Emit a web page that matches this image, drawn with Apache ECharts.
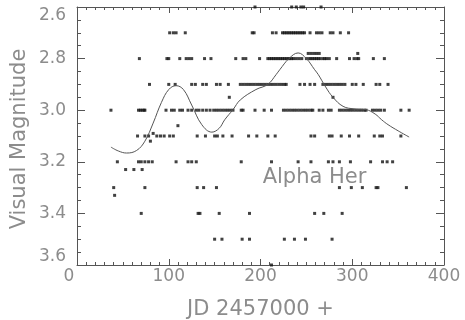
<!DOCTYPE html>
<html>
<head>
<meta charset="utf-8">
<script src="https://cdn.jsdelivr.net/npm/echarts@6/dist/echarts.min.js"></script>
<style>
html,body{margin:0;padding:0;background:#fff;}
#c{width:465px;height:320px;}
</style>
</head>
<body>
<div id="c"></div>
<script>
// Observations grouped by visual magnitude (JD - 2457000)
const jd_260 = [194, 234, 239, 244, 247, 266];
const jd_270 = [101, 105, 108, 118, 191, 193, 213, 217, 224, 226, 228, 230, 232, 234, 236, 238, 240, 242, 244, 246, 248, 254, 261, 264, 267, 276, 279, 287, 296];
const jd_278 = [252, 255, 258, 261, 264, 306];
const jd_280 = [68, 98, 100, 112, 119, 122, 125, 139, 146, 173, 181, 184, 199, 208, 210, 212, 214, 216, 218, 220, 222, 224, 226, 228, 230, 232, 234, 236, 239, 242, 245, 250, 253, 255, 257, 259, 261, 263, 265, 268, 270, 272, 275, 283, 297, 302, 305, 307, 323, 335];
const jd_290 = [79, 100, 107, 125, 129, 137, 141, 152, 156, 165, 178, 181, 184, 187, 190, 193, 196, 199, 202, 205, 208, 211, 214, 217, 220, 223, 226, 228, 243, 248, 254, 259, 268, 271, 274, 277, 280, 283, 286, 289, 292, 300, 304, 312, 326, 330, 339];
const jd_295 = [166, 279];
const jd_300 = [37, 67, 69, 71, 73, 74, 97, 103, 106, 112, 115, 121, 125, 130, 133, 137, 141, 145, 149, 152, 155, 158, 161, 164, 167, 170, 179, 181, 194, 204, 212, 225, 228, 231, 234, 237, 240, 243, 246, 249, 252, 255, 257, 264, 268, 274, 277, 286, 289, 292, 295, 298, 301, 304, 307, 310, 313, 315, 322, 325, 328, 331, 335, 353, 362];
const jd_306 = [110];
const jd_309 = [83];
const jd_310 = [66, 74, 78, 87, 91, 95, 101, 105, 131, 140, 150, 153, 159, 169, 187, 196, 208, 216, 255, 259, 275, 278, 288, 297, 307, 324, 330, 333, 353];
const jd_312 = [80];
const jd_320 = [44, 67, 70, 74, 78, 82, 108, 121, 125, 130, 179, 212, 241, 255, 274, 279, 286, 298, 320, 333, 338, 344];
const jd_323 = [53, 62, 71];
const jd_330 = [40, 74, 131, 138, 152, 286, 299, 311, 326, 328, 359];
const jd_333 = [41];
const jd_340 = [70, 132, 134, 155, 188, 259, 269, 289];
const jd_350 = [150, 158, 180, 188, 226, 237, 249, 278];
const jd_360 = [212];

const magLevels = [2.60, 2.70, 2.78, 2.80, 2.90, 2.95, 3.00, 3.06, 3.09, 3.10, 3.12, 3.20, 3.23, 3.30, 3.33, 3.40, 3.50, 3.60];
const jdGroups = [jd_260, jd_270, jd_278, jd_280, jd_290, jd_295, jd_300, jd_306, jd_309, jd_310, jd_312, jd_320, jd_323, jd_330, jd_333, jd_340, jd_350, jd_360];

// Smoothed fit curve
const fitJD  = [37, 45, 54, 65, 74, 83, 92, 100, 108, 116, 125, 136, 147, 155, 161, 170, 178, 195, 208, 217, 221, 231, 241, 250, 259, 263, 271, 279, 290, 302, 315, 325, 332, 339, 350, 362];
const fitMag = [3.143, 3.158, 3.166, 3.156, 3.12, 3.05, 2.97, 2.92, 2.905, 2.92, 2.98, 3.056, 3.085, 3.07, 3.037, 2.998, 2.96, 2.92, 2.90, 2.862, 2.843, 2.80, 2.778, 2.80, 2.843, 2.862, 2.91, 2.95, 2.985, 2.995, 2.998, 3.015, 3.037, 3.056, 3.08, 3.104];

const xTicks = [0, 100, 200, 300, 400];
const yTicks = [2.6, 2.8, 3.0, 3.2, 3.4, 3.6];

const obs = [];
jdGroups.forEach((g, i) => g.forEach(x => obs.push([x, magLevels[i]])));
const fit = fitJD.map((x, i) => [x, fitMag[i]]);

const FONT = 'DejaVu Sans';
const TXT = '#8c8c8c';
const AX = '#555';

const chart = echarts.init(document.getElementById('c'), null, {renderer: 'canvas'});
const xBase = {
  type: 'value', min: xTicks[0], max: xTicks[xTicks.length - 1], interval: 100,
  axisLine: {show: true, onZero: false, lineStyle: {color: AX, width: 1}},
  axisTick: {show: true, inside: true, length: 6, lineStyle: {color: AX}},
  minorTick: {show: true, splitNumber: 10, length: 3, lineStyle: {color: AX}},
  splitLine: {show: false}
};
const yBase = {
  type: 'value', inverse: true, min: yTicks[0], max: yTicks[yTicks.length - 1], interval: 0.2,
  axisLine: {show: true, onZero: false, lineStyle: {color: AX, width: 1}},
  axisTick: {show: true, inside: true, length: 8, lineStyle: {color: AX}},
  minorTick: {show: true, splitNumber: 4, length: 4, lineStyle: {color: AX}},
  splitLine: {show: false}
};

chart.setOption({
  animation: false,
  backgroundColor: '#fff',
  grid: {left: 77, right: 21, top: 7, bottom: 55, containLabel: false, outerBoundsMode: 'none'},
  xAxis: [
    Object.assign({}, xBase, {
      position: 'bottom',
      axisLabel: {show: true, margin: 3, color: TXT, fontFamily: FONT, fontSize: 17,
        formatter: v => v === 0 ? '{z|0}' : String(v),
        rich: {z: {color: TXT, fontFamily: FONT, fontSize: 17, padding: [0, 16, 0, 0]}}},
      name: 'JD 2457000 +', nameLocation: 'middle', nameGap: 34,
      nameTextStyle: {color: TXT, fontFamily: FONT, fontSize: 21}
    }),
    Object.assign({}, xBase, {position: 'top', axisLabel: {show: false}})
  ],
  yAxis: [
    Object.assign({}, yBase, {
      position: 'left',
      axisLabel: {show: true, margin: 11, color: TXT, fontFamily: FONT, fontSize: 17,
        verticalAlignMinLabel: 'top', verticalAlignMaxLabel: 'bottom',
        formatter: v => v.toFixed(1)}
    }),
    Object.assign({}, yBase, {position: 'right', axisLabel: {show: false}})
  ],
  graphic: [
    {type: 'text', x: 20, y: 139, rotation: Math.PI / 2,
      style: {text: 'Visual Magnitude', fill: TXT, font: '21px "DejaVu Sans"', align: 'center', verticalAlign: 'middle'}},
    {type: 'text', x: 314.5, y: 178,
      style: {text: 'Alpha Her', fill: TXT, font: '21px "DejaVu Sans"', align: 'center', verticalAlign: 'middle'}}
  ],
  series: [
    {type: 'scatter', data: obs, symbol: 'rect', symbolSize: 3,
      itemStyle: {color: '#111'}, clip: false, silent: true},
    {type: 'line', data: fit, smooth: 0.4, showSymbol: false, symbol: 'none',
      lineStyle: {color: '#555', width: 1}, clip: true, silent: true}
  ]
});
</script>
</body>
</html>
